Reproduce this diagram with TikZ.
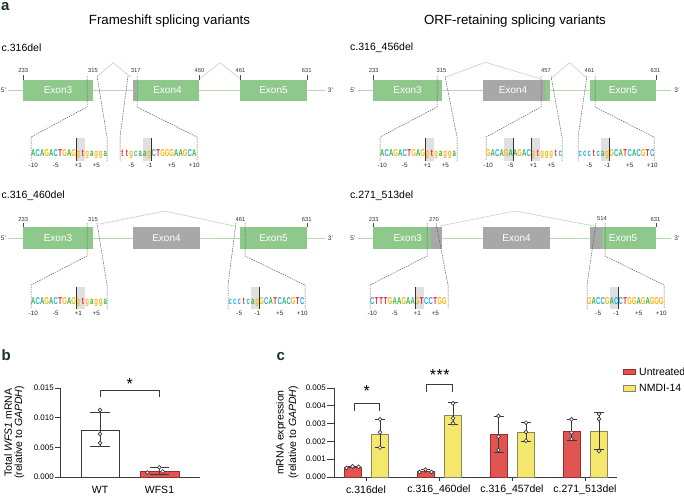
\documentclass[tikz,border=0pt]{standalone}
\usepackage{fontspec}
\usepackage{graphicx}
\setmainfont{Liberation Sans}
\newcommand\fs[1]{\fontsize{#1}{#1}\selectfont}
\newcommand\sqz[1]{\scalebox{0.6}[1]{#1}}
\definecolor{exg}{HTML}{8EC88B}
\definecolor{exgray}{HTML}{A8A8A8}
\definecolor{lineg}{HTML}{B5DBB1}
\definecolor{ntA}{HTML}{3BB34A}\definecolor{nta}{HTML}{3BB34A}
\definecolor{ntC}{HTML}{27AAE1}\definecolor{ntc}{HTML}{27AAE1}
\definecolor{ntG}{HTML}{F6B516}\definecolor{ntg}{HTML}{F6B516}
\definecolor{ntT}{HTML}{ED1C24}\definecolor{ntt}{HTML}{ED1C24}
\definecolor{barred}{HTML}{E05552}
\definecolor{barredd}{HTML}{9E2B2B}
\definecolor{baryel}{HTML}{F4E76C}
\definecolor{baryeld}{HTML}{8A8660}
\definecolor{axc}{HTML}{3A3A3A}
\definecolor{panelc}{HTML}{17302E}
\newcommand\seqrow[3]{\foreach \ch [count=\ci from 0] in {#3}{\node[seqch,text=nt\ch] at ({#1+4.5*\ci+2.25},#2) {\sqz{\ch}};}}
\newcommand\posA[2]{%
 \node[poslbl] at ({#1+2.25},#2) {-10};
 \node[poslbl] at ({#1+4.5*5+2.25},#2) {-5};
 \node[poslbl] at ({#1+4.5*10+2.25},#2) {+1};
 \node[poslbl] at ({#1+4.5*14+2.25},#2) {+5};}
\newcommand\posB[2]{%
 \node[poslbl] at ({#1+4.5*2+2.25},#2) {-5};
 \node[poslbl] at ({#1+4.5*6+2.25},#2) {-1};
 \node[poslbl] at ({#1+4.5*11+2.25},#2) {+5};
 \node[poslbl] at ({#1+4.5*16+2.25},#2) {+10};}
% x0, first col, ncols, ytop, ybot
\newcommand\hlbox[5]{\fill[hl] ({#1+4.5*#2},#4) rectangle ({#1+4.5*(#2+#3)},#5);}
\newcommand\blk[4]{\draw[blkline] ({#1+4.5*#2},#3) -- ({#1+4.5*#2},#4);}
\begin{document}
\begin{tikzpicture}[x=1pt,y=-1pt,
  panel/.style={font=\fs{15}\bfseries, text=panelc, inner sep=0},
  title/.style={font=\fs{13.3}, inner sep=0},
  glbl/.style={font=\fs{10.5}, inner sep=0, anchor=west},
  exlbl/.style={font=\fs{10}, text=white, inner sep=0},
  numlbl/.style={font=\fs{5.8}, text=black!80, inner sep=0},
  endlbl/.style={font=\fs{6.5}, text=black!80, inner sep=0},
  geneline/.style={draw=lineg, line width=1},
  splice/.style={draw=lineg, line width=0.6},
  dsh/.style={draw=black!65, line width=0.5, dash pattern=on 1.5pt off 1pt},
  tck/.style={draw=black!70, line width=0.5},
  seqch/.style={inner sep=0, anchor=base, font=\fs{10}\bfseries},
  poslbl/.style={font=\fs{6.3}, text=black!85, inner sep=0},
  hl/.style={fill=black!12},
  blkline/.style={draw=black!80, line width=0.9},
  ax/.style={draw=axc, line width=0.8},
  axlbl/.style={font=\fs{8}, inner sep=0, anchor=east},
  cat/.style={font=\fs{10.5}, inner sep=0},
  ytitle/.style={font=\fs{10.5}, inner sep=0, rotate=90},
  wbar/.style={draw=axc, fill=white, line width=0.8},
  rbar/.style={draw=barredd, fill=barred, line width=0.8},
  ybar/.style={draw=baryeld, fill=baryel, line width=0.8},
  err/.style={draw=axc, line width=0.8},
  pt/.style={draw=axc, fill=white, line width=0.6},
  star/.style={font=\fs{16}, inner sep=0, anchor=base}
]
\useasboundingbox (0,0) rectangle (684,498);

% ---------- panel a headings ----------
\node[panel, anchor=base west] (pa) at (1,10.5) {a};
\node[title] (t1) at (169.5,21) {Frameshift splicing variants};
\node[title] (t2) at (515,21) {ORF-retaining splicing variants};

% ================= TOP LEFT: c.316del =================
\node[glbl] (g1) at (1.5,48) {c.316del};
\draw[geneline] (8,90.5) -- (325,90.5);
\node[endlbl] (g1a) at (3.5,90.5) {5'};
\node[endlbl] (g1b) at (330.5,90.5) {3'};
\fill[exg] (23,80) rectangle (93,101);
\fill[exgray] (133,80) rectangle (136,101);
\fill[exg] (136,80) rectangle (199,101);
\fill[exg] (240,80) rectangle (307,101);
\node[exlbl] (g1e3) at (58,90.5) {Exon3};
\node[exlbl] (g1e4) at (167.5,90.5) {Exon4};
\node[exlbl] (g1e5) at (273.5,90.5) {Exon5};
\draw[splice] (97.5,76) -- (113.3,62.7) -- (130.7,77);
\draw[splice] (199.5,79) -- (220,62.7) -- (240.5,79);
\foreach \x/\t in {23.3/233,93/315,135.8/317,199.5/460,240.5/461,306.7/631}
  \node[numlbl] at (\x,71) {\t};
\foreach \x in {23,199,240,307} \draw[tck] (\x,75) -- (\x,80);
\draw[dsh] (87,76) -- (87,107) -- (31,137) -- (31,161);
\draw[dsh] (97,76) -- (107,137) -- (107,161);
\draw[dsh] (128,76) -- (120,137) -- (120,161);
\draw[dsh] (137,76) -- (137,107) -- (197,137) -- (197,161);
\hlbox{31}{10}{2}{138}{161}
\hlbox{120}{5}{2}{138}{161}
\seqrow{31}{156}{A,C,A,G,A,C,T,G,A,G,g,t,g,a,g,g,a}
\seqrow{120}{156}{t,t,g,c,a,a,g,C,T,G,G,G,A,A,G,C,A}
\blk{31}{10}{138}{161}
\blk{120}{7}{138}{161}
\posA{31}{165}
\posB{120}{165}

% ================= TOP RIGHT: c.316_456del =================
\node[glbl] (g2) at (350,48) {c.316\_456del};
\draw[geneline] (358,90.5) -- (671,90.5);
\node[endlbl] (g2a) at (353,90.5) {5'};
\node[endlbl] (g2b) at (677,90.5) {3'};
\fill[exg] (373,80) rectangle (442,101);
\fill[exgray] (483,80) rectangle (545,101);
\fill[exg] (545,80) rectangle (550,101);
\fill[exg] (590,80) rectangle (656,101);
\node[exlbl] (g2e3) at (407.5,90.5) {Exon3};
\node[exlbl] (g2e4) at (513,90.5) {Exon4};
\node[exlbl] (g2e5) at (623,90.5) {Exon5};
\draw[splice] (446,77) -- (485.3,62.3) -- (541,79);
\draw[splice] (551.3,78.3) -- (569.7,62.7) -- (587,78.3);
\foreach \x/\t in {373.7/233,441.5/315,546/457,589.5/461,655.5/631}
  \node[numlbl] at (\x,71) {\t};
\foreach \x in {373,656} \draw[tck] (\x,75) -- (\x,80);
\draw[dsh] (437,76) -- (437,107) -- (380,137) -- (380,161);
\draw[dsh] (445,76) -- (457,137) -- (457,161);
\draw[dsh] (541,76) -- (541,107) -- (486,137) -- (486,161);
\draw[dsh] (551,76) -- (562,137) -- (562,161);
\draw[dsh] (587,76) -- (578,137) -- (578,161);
\draw[dsh] (595,76) -- (595,107) -- (654,137) -- (654,161);
\hlbox{380}{10}{2}{138}{161}
\hlbox{486}{4}{2}{138}{161}
\hlbox{486}{10}{2}{138}{161}
\hlbox{578}{5}{2}{138}{161}
\seqrow{380}{156}{A,C,A,G,A,C,T,G,A,G,g,t,g,a,g,g,a}
\seqrow{486}{156}{G,A,C,A,G,A,A,G,A,C,g,t,g,g,g,t,c}
\seqrow{578}{156}{c,c,c,t,c,a,g,G,C,A,T,C,A,C,G,T,C}
\blk{380}{10}{138}{161}
\blk{486}{6}{138}{161}
\blk{486}{10}{138}{161}
\blk{578}{7}{138}{161}
\posA{380}{165}
\posA{486}{165}
\posB{578}{165}

% ================= BOTTOM LEFT: c.316_460del =================
\node[glbl] (g3) at (1.5,196) {c.316\_460del};
\draw[geneline] (8,238) -- (325,238);
\node[endlbl] (g3a) at (3.5,238) {5'};
\node[endlbl] (g3b) at (330.5,238) {3'};
\fill[exg] (23,227) rectangle (93,249);
\fill[exgray] (133,227) rectangle (200,249);
\fill[exg] (240,227) rectangle (307,249);
\node[exlbl] (g3e3) at (58,238) {Exon3};
\node[exlbl] (g3e4) at (166.5,238) {Exon4};
\node[exlbl] (g3e5) at (273.5,238) {Exon5};
\draw[splice] (100,224) -- (165,211) -- (234,226);
\foreach \x/\t in {23.3/233,93/315,240.5/461,306.7/631}
  \node[numlbl] at (\x,219) {\t};
\foreach \x in {23,307} \draw[tck] (\x,223) -- (\x,227);
\draw[dsh] (87,223) -- (87,256) -- (31,285) -- (31,309);
\draw[dsh] (97,223) -- (107,285) -- (107,309);
\draw[dsh] (236,223) -- (228,285) -- (228,309);
\draw[dsh] (245,223) -- (245,256) -- (305,285) -- (305,309);
\hlbox{31}{10}{2}{287}{309}
\hlbox{228}{5}{2}{287}{309}
\seqrow{31}{304.5}{A,C,A,G,A,C,T,G,A,G,g,t,g,a,g,g,a}
\seqrow{228}{304.5}{c,c,c,t,c,a,g,G,C,A,T,C,A,C,G,T,C}
\blk{31}{10}{287}{309}
\blk{228}{7}{287}{309}
\posA{31}{313}
\posB{228}{313}

% ================= BOTTOM RIGHT: c.271_513del =================
\node[glbl] (g4) at (350,196) {c.271\_513del};
\draw[geneline] (358,238) -- (671,238);
\node[endlbl] (g4a) at (353,238) {5'};
\node[endlbl] (g4b) at (677,238) {3'};
\fill[exg] (373,227) rectangle (431,249);
\fill[exgray] (431,227) rectangle (442,249);
\fill[exgray] (483,227) rectangle (550,249);
\fill[exgray] (590,227) rectangle (602,249);
\fill[exg] (602,227) rectangle (656,249);
\node[exlbl] (g4e3) at (407.7,238) {Exon3};
\node[exlbl] (g4e4) at (516.5,238) {Exon4};
\node[exlbl] (g4e5) at (623,238) {Exon5};
\draw[splice] (440,226) -- (515,211) -- (594,226);
\foreach \x/\t in {373.7/233,434/270,602/514,655.5/631}
  \node[numlbl] at (\x,219) {\t};
\foreach \x in {373,656} \draw[tck] (\x,223) -- (\x,227);
\draw[dsh] (427,223) -- (427,256) -- (370,285) -- (370,309);
\draw[dsh] (436,223) -- (448,285) -- (448,309);
\draw[dsh] (596,223) -- (587,285) -- (587,309);
\draw[dsh] (605,223) -- (605,256) -- (664,285) -- (664,309);
\hlbox{370}{10}{2}{287}{309}
\hlbox{587}{5}{2}{287}{309}
\seqrow{370}{304.5}{C,T,T,T,G,A,A,G,A,A,G,T,C,C,T,G,G}
\seqrow{587}{304.5}{G,A,C,C,G,A,C,C,T,G,G,A,G,A,G,G,G}
\blk{370}{10}{287}{309}
\blk{587}{7}{287}{309}
\posA{370}{313}
\posB{587}{313}

% ================= PANEL b =================
\node[panel, anchor=base west] (pb) at (1.5,360) {b};
\node[ytitle] (byt1) at (8,432.5) {Total \textit{WFS1} mRNA};
\node[ytitle] (byt2) at (19.5,432.5) {(relative to \textit{GAPDH})};
\draw[ax] (60,388) -- (60,477) -- (200,477);
\foreach \y/\t in {388/0.015,417.67/0.010,447.33/0.005,477/0.000}{
  \draw[ax] (55,\y) -- (60,\y);
  \node[axlbl] at (54,\y) {\t};}
\draw[wbar] (81,477) rectangle (119,430);
\draw[err] (100,412) -- (100,446) (90,412) -- (110,412) (90,446) -- (110,446);
\foreach \y in {410,434,443} \draw[pt] (100,\y) circle (1.9);
\draw[rbar] (140,477) rectangle (179,471);
\draw[err] (159.5,467) -- (159.5,474) (150,467) -- (169,467) (150,474) -- (169,474);
\draw[pt] (159.3,467.3) circle (1.9);
\draw[pt] (147.5,472.5) circle (1.9);
\draw[pt] (162.7,471.5) circle (1.9);
\node[cat] (bwt) at (100,490) {WT};
\node[cat] (bwf) at (159.5,490) {WFS1};
\draw[err] (100,397) -- (100,390) -- (159.5,390) -- (159.5,397);
\node[star] (bs) at (129.7,389) {*};

% ================= PANEL c =================
\node[panel, anchor=base west] (pc) at (276.5,360.5) {c};
\node[ytitle] (cyt1) at (281,432.5) {mRNA expression};
\node[ytitle] (cyt2) at (293.5,432.5) {(relative to \textit{GAPDH})};
\draw[ax] (334,388) -- (334,477) -- (617,477);
\foreach \v in {0,...,5}{
  \draw[ax] (327,{477-17.8*\v}) -- (334,{477-17.8*\v});
  \node[axlbl] at (326,{477-17.8*\v}) {0.00\v};}
\foreach \g/\t in {366/c.316del,439/c.316\_460del,512/c.316\_457del,585/c.271\_513del}{
  \draw[ax] (\g,477) -- (\g,481);
  \node[cat] at (\g,490) {\t};}
% group 1
\draw[rbar] (344,477) rectangle (361,467.7);
\draw[err] (352.5,466.3) -- (352.5,469) (348,466.3) -- (357,466.3);
\draw[pt] (346.5,468) circle (1.9);
\draw[pt] (352.5,466.3) circle (1.9);
\draw[pt] (358.5,466.8) circle (1.9);
\draw[ybar] (371.5,477) rectangle (388.5,434.3);
\draw[err] (380,419.3) -- (380,447.6) (375,419.3) -- (385,419.3) (375,447.6) -- (385,447.6);
\foreach \y in {419.3,432.3,447.6} \draw[pt] (380,\y) circle (1.9);
% group 2
\draw[rbar] (417,477) rectangle (434,471.7);
\draw[err] (425.5,469.5) -- (425.5,473) (421,469.5) -- (430,469.5);
\draw[pt] (419.5,472) circle (1.9);
\draw[pt] (425.5,469.5) circle (1.9);
\draw[pt] (431.5,472) circle (1.9);
\draw[ybar] (444.5,477) rectangle (461.5,415);
\draw[err] (453,402.8) -- (453,424.3) (448,402.8) -- (458,402.8) (448,424.3) -- (458,424.3);
\foreach \y in {403.3,418.3,423.3} \draw[pt] (453,\y) circle (1.9);
% group 3
\draw[rbar] (490,477) rectangle (507,434.3);
\draw[err] (498.5,416.1) -- (498.5,452.1) (493.5,416.1) -- (503.5,416.1) (493.5,452.1) -- (503.5,452.1);
\foreach \y in {416,436.7,450} \draw[pt] (498.5,\y) circle (1.9);
\draw[ybar] (517.5,477) rectangle (534.5,432.5);
\draw[err] (526,422.7) -- (526,441.4) (521,422.7) -- (531,422.7) (521,441.4) -- (531,441.4);
\foreach \y in {422.7,432,440.7} \draw[pt] (526,\y) circle (1.9);
% group 4
\draw[rbar] (563,477) rectangle (580,431.1);
\draw[err] (571.5,419.3) -- (571.5,440) (566.5,419.3) -- (576.5,419.3) (566.5,440) -- (576.5,440);
\foreach \y in {419.3,432.7,439} \draw[pt] (571.5,\y) circle (1.9);
\draw[ybar] (590.5,477) rectangle (607.5,431.1);
\draw[err] (599,412) -- (599,449) (594,412) -- (604,412) (594,449) -- (604,449);
\foreach \y in {414,419,451} \draw[pt] (599,\y) circle (1.9);
% significance
\draw[err] (354.3,411) -- (354.3,403.5) -- (379.3,403.5) -- (379.3,411);
\node[star] (cs1) at (366.8,396) {*};
\draw[err] (426.7,392) -- (426.7,384.5) -- (452.7,384.5) -- (452.7,392);
\node[star] (cs2) at (439.7,380) {*\kern0.6pt*\kern0.6pt*};
% legend
\draw[rbar, line width=0.6] (623.3,369.3) rectangle (635,374.5);
\node[cat, anchor=west] (lu) at (639,371.8) {Untreated};
\draw[ybar, line width=0.6] (623.3,385.7) rectangle (635,390.8);
\node[cat, anchor=west] (ln) at (639,388) {NMDI-14};
\end{tikzpicture}
\end{document}
